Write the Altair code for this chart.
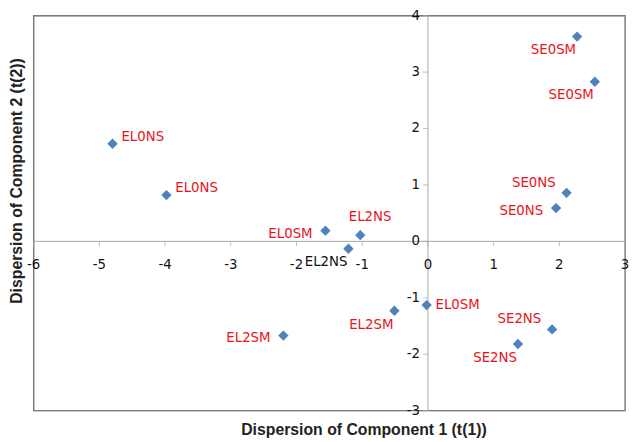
import altair as alt
import pandas as pd

# Data
labels = ["EL0NS", "EL0NS", "EL0SM", "EL2NS", "EL2NS", "SE0SM", "SE0SM",
          "SE0NS", "SE0NS", "EL2SM", "EL2SM", "EL0SM", "SE2NS", "SE2NS"]
t1 = [-4.80, -3.98, -1.56, -1.03, -1.21, 2.27, 2.54,
      2.11, 1.95, -2.20, -0.51, -0.02, 1.89, 1.37]
t2 = [1.73, 0.82, 0.19, 0.11, -0.13, 3.63, 2.83,
      0.86, 0.59, -1.67, -1.23, -1.13, -1.56, -1.82]
placement = ["right-up", "right-up", "left", "above", "below-left", "below-left", "below-left",
             "upper-left", "left", "left", "below-left", "right", "upper-left", "below-left"]
label_color = ["red", "red", "red", "red", "black", "red", "red",
               "red", "red", "red", "red", "red", "red", "red"]

x_ticks = [-6, -5, -4, -3, -2, -1, 0, 1, 2, 3]
y_ticks = [-3, -2, -1, 0, 1, 2, 3, 4]
x_domain = [-6, 3]
y_domain = [-3, 4]

df = pd.DataFrame({"t1": t1, "t2": t2, "label": labels,
                   "place": placement, "lc": label_color})
xt = pd.DataFrame({"v": x_ticks, "z": 0, "txt": [str(v) for v in x_ticks]})
yt = pd.DataFrame({"v": y_ticks, "z": 0, "txt": [str(v) for v in y_ticks]})
frame_df = pd.DataFrame({"x0": [x_domain[0]], "x1": [x_domain[1]],
                         "y0": [y_domain[0]], "y1": [y_domain[1]]})

xscale = alt.Scale(domain=x_domain, nice=False, zero=False)
yscale = alt.Scale(domain=y_domain, nice=False, zero=False)

X = alt.X("t1:Q", scale=xscale,
          axis=alt.Axis(title="Dispersion of Component 1 (t(1))", labels=False, ticks=False,
                        domain=False, grid=False, titleFont="Liberation Sans",
                        titleFontSize=16, titleFontWeight="bold", titleColor="#222",
                        titleX=334, titleY=19, titleBaseline="middle"))
Y = alt.Y("t2:Q", scale=yscale,
          axis=alt.Axis(title="Dispersion of Component 2 (t(2))", labels=False, ticks=False,
                        domain=False, grid=False, titleFont="Liberation Sans",
                        titleFontSize=16, titleFontWeight="bold", titleColor="#222",
                        titleX=-17, titleY=167, titleAngle=-90, titleBaseline="middle",
                        titleAlign="center"))

base = alt.Chart(df)

frame = alt.Chart(frame_df).mark_rect(filled=False, stroke="#7a7a7a", strokeWidth=1.4).encode(
    x=alt.X("x0:Q", scale=xscale), x2="x1:Q",
    y=alt.Y("y0:Q", scale=yscale), y2="y1:Q")

points = base.mark_point(shape="diamond", filled=True, size=110, color="#4f81bd",
                         opacity=1).encode(x=X, y=Y)

# zero lines
zx = alt.Chart(pd.DataFrame({"v": [0]})).mark_rule(color="#a6a6a6", strokeWidth=1).encode(
    x=alt.X("v:Q", scale=xscale))
zy = alt.Chart(pd.DataFrame({"v": [0]})).mark_rule(color="#a6a6a6", strokeWidth=1).encode(
    y=alt.Y("v:Q", scale=yscale))

xtick_marks = alt.Chart(xt).mark_tick(orient="vertical", size=5, yOffset=2.5,
                                      color="#a6a6a6", thickness=1).encode(
    x=alt.X("v:Q", scale=xscale), y=alt.Y("z:Q", scale=yscale))
ytick_marks = alt.Chart(yt).mark_tick(orient="horizontal", size=5, xOffset=-2.5,
                                      color="#a6a6a6", thickness=1).encode(
    y=alt.Y("v:Q", scale=yscale), x=alt.X("z:Q", scale=xscale))

xtick_labels = alt.Chart(xt).mark_text(dy=24, fontSize=13.5, font="DejaVu Sans",
                                       color="#111", baseline="middle").encode(
    x=alt.X("v:Q", scale=xscale), y=alt.Y("z:Q", scale=yscale), text="txt:N")
ytick_labels = alt.Chart(yt).mark_text(dx=-8, fontSize=13.5, font="DejaVu Sans",
                                       color="#111", align="right", baseline="middle").encode(
    y=alt.Y("v:Q", scale=yscale), x=alt.X("z:Q", scale=xscale), text="txt:N")

place_style = {
    "right-up": dict(align="left", dx=9, dy=-7),
    "right": dict(align="left", dx=9, dy=0),
    "left": dict(align="right", dx=-13, dy=3),
    "upper-left": dict(align="right", dx=-11, dy=-10),
    "below-left": dict(align="right", dx=-1, dy=14),
    "above": dict(align="center", dx=10, dy=-18),
}

text_layers = []
for key, st in place_style.items():
    text_layers.append(
        base.transform_filter(alt.datum.place == key).mark_text(
            fontSize=13.5, font="DejaVu Sans", baseline="middle", **st).encode(
            x=X, y=Y, text="label:N",
            color=alt.Color("lc:N", scale=alt.Scale(domain=["red", "black"],
                                                     range=["#e8141c", "#111111"]),
                            legend=None)))

chart = alt.layer(frame, zx, zy, xtick_marks, ytick_marks, xtick_labels, ytick_labels,
                  points, *text_layers).properties(
    width=599, height=400,
    autosize=alt.AutoSizeParams(type="none"),
    padding={"left": 26, "top": 5, "right": 5, "bottom": 30},
).configure_view(stroke="transparent").configure(background="white")

chart.save("out.html", embed_options={"renderer": "svg", "actions": False})
